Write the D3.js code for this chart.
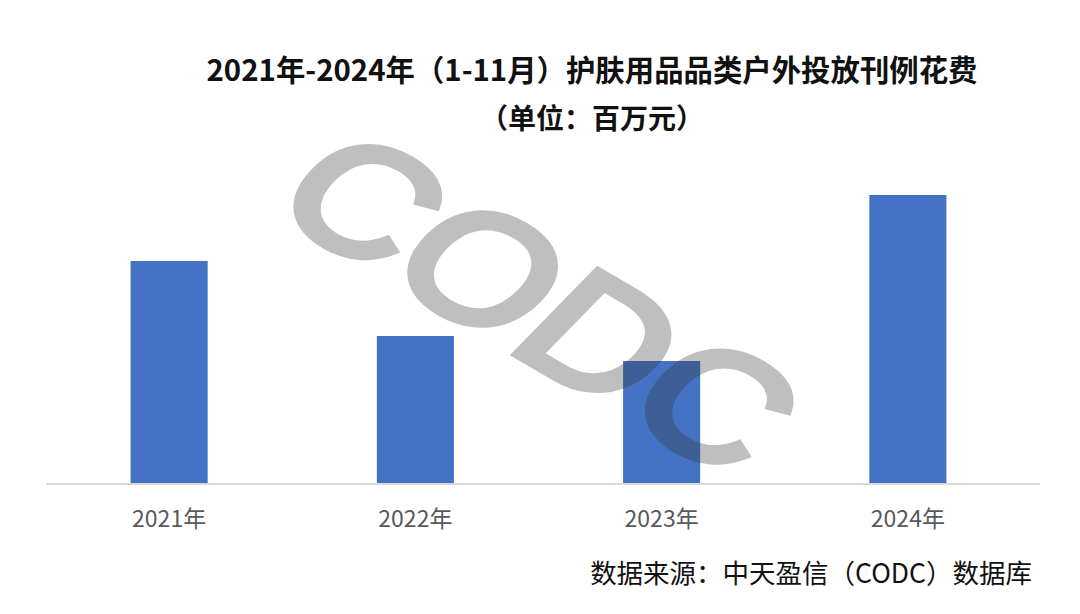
<!DOCTYPE html>
<html>
<head>
<meta charset="utf-8">
<script src="https://cdn.jsdelivr.net/npm/d3@7"></script>
<style>
  html, body { margin: 0; padding: 0; background: #fff; }
  svg { display: block; }
</style>
</head>
<body>
<svg id="chart" width="1080" height="614"></svg>
<script>
// ---- data ----
const categories = ["2021年", "2022年", "2023年", "2024年"];
const values = [223, 148, 123, 289];   // 百万元
const titleLines = ["2021年-2024年（1-11月）护肤用品品类户外投放刊例花费", "（单位：百万元）"];
const sourceText = "数据来源：中天盈信（CODC）数据库";
const watermarkText = "CODC";

// ---- layout ----
const W = 1080, H = 614;
const svg = d3.select("#chart");
const baseY = 484;

const x = d3.scaleBand()
  .domain(categories)
  .range([46, 1031])
  .paddingInner(0.687)
  .paddingOuter(0.3435);

const y = d3.scaleLinear()
  .domain([0, 300])
  .range([baseY, baseY - 300]);

// bars
svg.append("g")
  .selectAll("rect")
  .data(categories)
  .join("rect")
  .attr("x", d => x(d))
  .attr("y", (d, i) => y(values[i]))
  .attr("width", x.bandwidth())
  .attr("height", (d, i) => y(0) - y(values[i]))
  .attr("fill", "#4472C4");

// x axis
const xAxis = svg.append("g")
  .attr("transform", `translate(0,${baseY})`)
  .call(d3.axisBottom(x).tickSize(0).tickPadding(27));
xAxis.select(".domain").remove();
xAxis.append("line")
  .attr("x1", 46).attr("x2", 1040)
  .attr("y1", 0).attr("y2", 0)
  .attr("stroke", "#d9d9d9").attr("stroke-width", 2);
xAxis.selectAll("text")
  .attr("font-family", "'Noto Sans CJK SC', 'Noto Sans', sans-serif")
  .attr("font-size", 23)
  .attr("fill", "#595959");

// title
const title = svg.append("g")
  .attr("font-family", "'Noto Sans CJK SC', 'Noto Sans', sans-serif")
  .attr("font-weight", "bold")
  .attr("fill", "#111")
  .attr("text-anchor", "middle");
title.selectAll("text")
  .data(titleLines)
  .join("text")
  .attr("x", 592)
  .attr("y", (d, i) => 81 + i * 48)
  .attr("font-size", (d, i) => i === 0 ? 29.4 : 28)
  .text(d => d);

// source
svg.append("text")
  .attr("x", 1032)
  .attr("y", 583)
  .attr("text-anchor", "end")
  .attr("font-family", "'Noto Sans CJK SC', 'Noto Sans', sans-serif")
  .attr("font-size", 26.5)
  .attr("fill", "#111")
  .text(sourceText);

// watermark
svg.append("g")
  .attr("opacity", 0.31)
  .attr("transform", "translate(540,302) scale(1.1,0.85) rotate(37)")
  .append("text")
  .attr("text-anchor", "middle")
  .attr("dominant-baseline", "central")
  .attr("font-family", "'Liberation Sans', Arial, sans-serif")
  .attr("font-size", 180)
  .attr("fill", "#333")
  .attr("stroke", "#333")
  .attr("stroke-width", 8)
  .text(watermarkText);
</script>
</body>
</html>
